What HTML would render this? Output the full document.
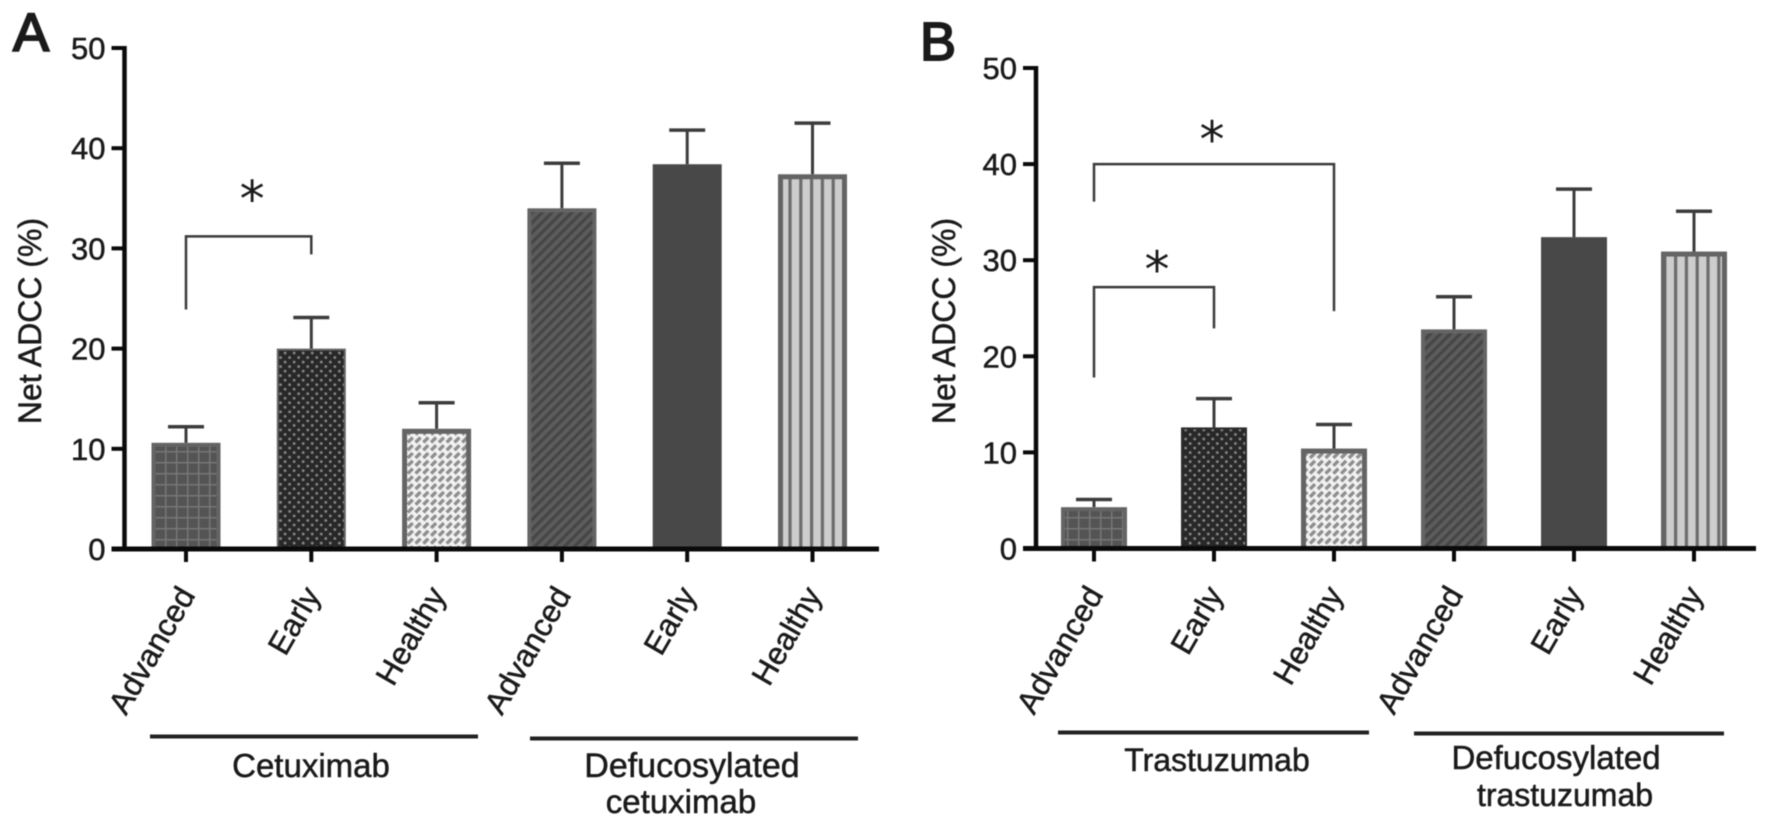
<!DOCTYPE html>
<html lang="en">
<head>
<meta charset="utf-8">
<title>Net ADCC by patient group</title>
<style>
html,body{margin:0;padding:0;background:#fff;}
svg{display:block;filter:blur(0.5px);}
text{font-family:"Liberation Sans",sans-serif;fill:#1a1a1a;stroke:#1a1a1a;stroke-width:0.5px;}
text.star{font-family:"DejaVu Sans",sans-serif;stroke-width:0;}
text.panel-letter{stroke-width:2px;}
</style>
</head>
<body>
<svg id="chart" xmlns="http://www.w3.org/2000/svg" width="1772" height="831" viewBox="0 0 1772 831">
<defs>
<pattern id="p-grid" width="11" height="11" patternUnits="userSpaceOnUse">
<rect width="11" height="11" fill="#545454"/><path d="M0 0H11M0 0V11" stroke="#767676" stroke-width="3" fill="none"/>
</pattern>
<pattern id="p-dots" width="6.4" height="6.4" patternUnits="userSpaceOnUse" patternTransform="rotate(45)">
<rect width="6.4" height="6.4" fill="#282828"/><circle cx="3.2" cy="3.2" r="1.4" fill="#8a8a8a"/>
</pattern>
<pattern id="p-dash" width="11" height="11" patternUnits="userSpaceOnUse" patternTransform="rotate(45)">
<rect width="11" height="11" fill="#f2f2f2"/><rect x="0" y="1" width="3.4" height="7" fill="#8e8e8e"/><rect x="5.5" y="6.5" width="3.4" height="7" fill="#8e8e8e"/><rect x="5.5" y="-4.5" width="3.4" height="7" fill="#8e8e8e"/>
</pattern>
<pattern id="p-hatch" width="7" height="7" patternUnits="userSpaceOnUse" patternTransform="rotate(45)">
<rect width="7" height="7" fill="#5c5c5c"/><rect width="3.2" height="7" fill="#464646"/>
</pattern>
<pattern id="p-solid" width="10" height="10" patternUnits="userSpaceOnUse">
<rect width="10" height="10" fill="#484848"/>
</pattern>
<pattern id="p-vert" width="10.8" height="10" patternUnits="userSpaceOnUse">
<rect width="10.8" height="10" fill="#cdcdcd"/><rect x="0" width="3.2" height="10" fill="#6c6c6c"/>
</pattern>
</defs>
<text class="panel-letter" x="13" y="51" font-size="54">A</text>
<text class="panel-letter" x="920" y="60" font-size="54">B</text>
</svg>
<script>
var categories = ['Advanced', 'Early', 'Healthy', 'Advanced', 'Early', 'Healthy'];
var yTickLabels = [0, 10, 20, 30, 40, 50];
var valuesA = [10.6, 20.0, 12.0, 34.0, 38.4, 37.4];
var errorsA = [1.6, 3.1, 2.6, 4.5, 3.4, 5.1];
var valuesB = [4.3, 12.6, 10.4, 22.8, 32.4, 30.9];
var errorsB = [0.8, 3.0, 2.5, 3.4, 5.0, 4.2];
var bracketFromA = [0];
var bracketToA = [1];
var bracketTopA = [31.2];
var bracketFromBottomA = [23.9];
var bracketToBottomA = [29.4];
var bracketFromB = [0, 0];
var bracketToB = [2, 1];
var bracketTopB = [40.0, 27.2];
var bracketFromBottomB = [36.1, 17.8];
var bracketToBottomB = [24.7, 22.9];
var fills = ['p-grid', 'p-dots', 'p-dash', 'p-hatch', 'p-solid', 'p-vert'];

var svg = document.getElementById('chart');
var NS = 'http://www.w3.org/2000/svg';
function mk(tag, attrs, txt) {
  var el = document.createElementNS(NS, tag);
  for (var k in attrs) el.setAttribute(k, attrs[k]);
  if (txt !== undefined) el.textContent = txt;
  svg.appendChild(el);
  return el;
}
function line(x1, y1, x2, y2, w, c) {
  return mk('line', {x1: x1, y1: y1, x2: x2, y2: y2, stroke: c, 'stroke-width': w});
}

function drawPanel(p, cfg) {
  function yScale(v) { return cfg.y0 - (v / 50) * (cfg.y0 - cfg.y50); }
  function xScale(i) { return cfg.x0 + i * cfg.step; }
  var el;

  cfg.values.forEach(function (v, i) {
    var cx = xScale(i), top = yScale(v), bot = cfg.y0;
    var tipY = yScale(v + cfg.errors[i]);
    el = line(cx, top, cx, tipY, 3, '#3c3c3c');
    
    
    el = line(cx - 18, tipY, cx + 18, tipY, 3.5, '#3c3c3c');
    
    
    var sw = (i === 2 || i === 5) ? 5 : ((i === 1 || i === 4) ? 2 : 4);
    var stroke = i === 1 ? cfg.dotBorder : (i === 4 ? '#484848' : '#646464');
    el = mk('rect', {x: cx - cfg.barW / 2 + sw / 2, y: top + sw / 2, width: cfg.barW - sw, height: Math.max(0, bot - top - sw / 2), fill: 'url(#' + fills[i] + ')', stroke: stroke, 'stroke-width': sw});
    
    
  });

  el = line(cfg.axisX, cfg.y50 - 2, cfg.axisX, cfg.y0, 4.5, '#0a0a0a');
  
  
  el = line(cfg.axisX - 13, cfg.y0, cfg.xEnd, cfg.y0, 5, '#0a0a0a');
  
  

  yTickLabels.forEach(function (t) {
    var y = yScale(t);
    if (t > 0) {
      el = line(cfg.axisX - 13, y, cfg.axisX, y, 4, '#0a0a0a');
      
      
    }
    el = mk('text', {x: cfg.axisX - 19, y: y + 11, 'font-size': 31, 'text-anchor': 'end'}, String(t));
    
    
  });

  categories.forEach(function (c, i) {
    var cx = xScale(i);
    el = line(cx, cfg.y0, cx, cfg.y0 + 13, 4, '#0a0a0a');
    
    
    var ex = cx + 10, ey = cfg.y0 + 46;
    el = mk('text', {x: ex, y: ey, 'font-size': 31.5, 'text-anchor': 'end', transform: 'rotate(-60 ' + ex + ' ' + ey + ')'}, c);
    
    
  });

  el = mk('text', {x: cfg.titleX, y: cfg.titleY, 'font-size': 32, 'text-anchor': 'middle', transform: 'rotate(-90 ' + cfg.titleX + ' ' + cfg.titleY + ')'}, 'Net ADCC (%)');
  
  

  cfg.bracketFrom.forEach(function (f, i) {
    var xa = xScale(f), xb = xScale(cfg.bracketTo[i]);
    var yt = yScale(cfg.bracketTop[i]);
    var ya = yScale(cfg.bracketFromBottom[i]), yb = yScale(cfg.bracketToBottom[i]);
    el = mk('path', {d: 'M' + xa + ' ' + ya + 'V' + yt + 'H' + xb + 'V' + yb, fill: 'none', stroke: '#3a3a3a', 'stroke-width': 2.5});
    
    
    el = mk('text', {'class': 'star', x: (xa + xb) / 2 + cfg.starShiftX[i], y: yt + cfg.starShiftY[i], 'font-size': 50, 'text-anchor': 'middle'}, '*');
    
    
  });
}

drawPanel('panel-a', {
  values: valuesA, errors: errorsA,
  bracketFrom: bracketFromA, bracketTo: bracketToA, bracketTop: bracketTopA,
  bracketFromBottom: bracketFromBottomA, bracketToBottom: bracketToBottomA,
  starShiftX: [3.5], starShiftY: [-20],
  y0: 549, y50: 48, x0: 186, step: 125.3, barW: 69, axisX: 124.5, xEnd: 879,
  titleX: 41, titleY: 321, dotBorder: '#666666'
});
drawPanel('panel-b', {
  values: valuesB, errors: errorsB,
  bracketFrom: bracketFromB, bracketTo: bracketToB, bracketTop: bracketTopB,
  bracketFromBottom: bracketFromBottomB, bracketToBottom: bracketToBottomB,
  starShiftX: [-2, 3], starShiftY: [-7, 0],
  y0: 548.5, y50: 68, x0: 1094, step: 120, barW: 66, axisX: 1036, xEnd: 1756,
  titleX: 955, titleY: 321, dotBorder: '#2c2c2c'
});

var g;
g = line(150, 736.5, 478, 736.5, 4, '#222');


g = line(530, 738.5, 858, 738.5, 4, '#222');


g = line(1058, 732.5, 1369, 732.5, 4, '#222');


g = line(1414, 733.5, 1724, 733.5, 4, '#222');



g = mk('text', {x: 311, y: 777, 'font-size': 33, 'text-anchor': 'middle'}, 'Cetuximab');


g = mk('text', {x: 692, y: 777, 'font-size': 34, 'text-anchor': 'middle'}, 'Defucosylated');


g = mk('text', {x: 681, y: 813, 'font-size': 33, 'text-anchor': 'middle'}, 'cetuximab');


g = mk('text', {x: 1217, y: 771, 'font-size': 32, 'text-anchor': 'middle'}, 'Trastuzumab');


g = mk('text', {x: 1556, y: 769, 'font-size': 33, 'text-anchor': 'middle'}, 'Defucosylated');


g = mk('text', {x: 1565, y: 806, 'font-size': 32, 'text-anchor': 'middle'}, 'trastuzumab');


</script>
</body>
</html>
